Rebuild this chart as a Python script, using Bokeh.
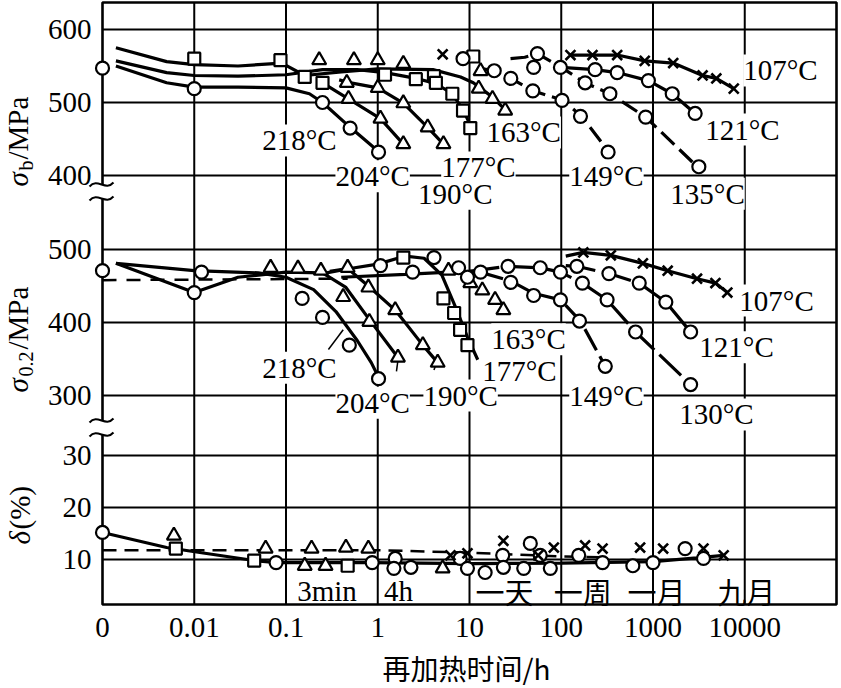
import numpy as np
from bokeh.plotting import figure
from bokeh.models import Range1d, Label
from bokeh.core.properties import value
from bokeh.embed import file_html
from bokeh.resources import INLINE

# ---------------- data : time in hours (0.001 h is drawn at the "0" tick) ----------------
X_TICKS = [-3, -2, -1, 0, 1, 2, 3, 4]
X_TICK_LABELS = ["0", "0.01", "0.1", "1", "10", "100", "1000", "10000"]
SB_TICKS = [600, 500, 400]
S2_TICKS = [500, 400, 300]
D_TICKS = [30, 20, 10]

# sigma_b  (MPa)
sb_start_t = [0.001]; sb_start_v = [547]
sb163_line_t = [0.0014, 0.005, 0.01, 0.03, 0.09, 0.16, 0.4, 1.0, 4.0, 8.0, 11, 18, 24.5]
sb163_line_v = [575, 556, 552, 550, 554, 537, 542, 546, 545, 535, 527, 507, 490]
sb163_tri_t = [0.23, 0.55, 1.0, 1.9, 13.2, 12.6, 17.8, 24.5]
sb163_tri_v = [558, 558, 558, 553, 543, 519, 505, 489]
sb177_line_t = [0.0014, 0.005, 0.01, 0.03, 0.1, 0.25, 0.6, 1.2, 2.6, 4.3, 6.5, 8.5, 10.5]
sb177_line_v = [557, 541, 537, 536, 538, 545, 545, 541, 533, 526, 512, 490, 466]
sb177_sq_t = [0.01, 0.087, 0.16, 1.2, 2.6, 4.1, 4.3, 6.5, 8.5, 10.2, 11]
sb177_sq_v = [560, 558, 535, 538, 532, 536, 527, 512, 489, 465, 563]
sb218_line_t = [0.0014, 0.005, 0.01, 0.03, 0.1, 0.18, 0.25, 0.5, 1.02]
sb218_line_v = [550, 527, 521, 521, 520, 512, 500, 466, 433]
sb218_o_t = [0.01, 0.25, 0.5, 1.02]
sb218_o_v = [519, 500, 465, 432]
sb204_line_t = [0.25, 0.48, 1.07, 1.9]
sb204_line_v = [527, 505, 478, 443]
sb204_sq_t = [0.25]; sb204_sq_v = [527]
sb204_tri_t = [0.48, 1.07, 1.9]
sb204_tri_v = [505, 478, 443]
sb190_line_t = [0.38, 0.46, 1.0, 1.9, 3.5, 5.2]
sb190_line_v = [531, 528, 520, 499, 466, 443]
sb190_tri_t = [0.46, 1.0, 1.9, 3.5, 5.2]
sb190_tri_v = [527, 520, 499, 466, 443]
sb149_line_t = [14, 18.6, 28.2, 49, 105, 170, 331]
sb149_line_v = [546, 543.5, 533, 516, 503, 480, 432]
sb149_o_t = [8.5, 18.6, 28.2, 49, 50, 102, 162, 324]
sb149_o_v = [560, 543.5, 533, 516, 548, 503, 481, 432]
sb135_line_t = [28, 40, 55, 100, 182, 339, 832, 3160]
sb135_line_v = [560, 562, 567, 548, 527, 512, 480, 410]
sb135_o_t = [55, 98, 182, 339, 832, 3160]
sb135_o_v = [567, 548, 527, 512, 480, 412]
sb121_line_t = [100, 234, 407, 891, 1620, 2880]
sb121_line_v = [548, 545, 541, 530, 512, 485]
sb121_o_t = [234, 407, 891, 1620, 2880]
sb121_o_v = [545, 541, 530, 512, 485]
sb107_line_t = [126, 219, 407, 813, 1660, 3470, 4900, 7590]
sb107_line_v = [565, 565, 565, 557, 554, 537, 533, 519]
sb107_x_t = [5.1, 126, 219, 407, 813, 1660, 3470, 4900, 7590]
sb107_x_v = [566, 565, 565, 565, 557, 554, 537, 533, 519]

# sigma_0.2 (MPa)
s2_start_t = [0.001]; s2_start_v = [471]
s2_218_line_t = [0.0014, 0.01, 0.05, 0.1, 0.2, 0.35, 0.6, 0.85, 1.05]
s2_218_line_v = [481, 471, 468, 462, 445, 415, 375, 345, 322]
s2_218_o_t = [0.012, 0.15, 0.25, 0.49, 1.02]
s2_218_o_v = [469, 433, 407, 369, 323]
s2_204_line_t = [0.0014, 0.01, 0.03, 0.1, 0.25, 0.45, 0.8, 1.66]
s2_204_line_v = [481, 441, 462, 469, 468, 448, 405, 352]
s2_204_o_t = [0.01]; s2_204_o_v = [441]
s2_204_tri_t = [0.068, 0.135, 0.24, 0.42, 0.81, 1.66]
s2_204_tri_v = [475, 474, 471, 435, 401, 352]
s2_190_line_t = [0.3, 0.47, 0.79, 1.55, 3.1, 4.5]
s2_190_line_v = [470, 474, 450, 417, 369, 345]
s2_190_tri_t = [0.47, 0.79, 1.55, 3.1, 4.5]
s2_190_tri_v = [475, 448, 417, 369, 345]
s2_177_line_t = [0.25, 0.5, 1.0, 2.0, 3.2, 5.0, 7.1, 9.5, 12.3]
s2_177_line_v = [467, 474, 480, 491, 488, 465, 420, 380, 349]
s2_177_sq_t = [1.9, 5.2, 6.8, 7.9, 9.5]
s2_177_sq_v = [489, 433, 413, 390, 369]
s2_177_o_t = [1.07, 2.4, 4.1]
s2_177_o_v = [478, 469, 489]
s2_163_line_t = [0.4, 2.0, 6.0, 10, 14]
s2_163_line_v = [462, 466, 469, 470, 470]
s2_163_tri_t = [5.9, 10.2, 13.8, 19, 23.4]
s2_163_tri_v = [471, 454, 444, 431, 417]
s2_163_o_t = [7.6, 9.5, 13.2]
s2_163_o_v = [475, 462, 469]
s2_149_line_t = [13, 28, 50, 98, 162, 302]
s2_149_line_v = [469, 457, 440, 431, 402, 340]
s2_149_o_t = [28.2, 50, 98, 158, 302]
s2_149_o_v = [455, 437, 431, 402, 340]
s2_130_line_t = [10, 26.3, 59, 98, 170, 316, 646, 2570]
s2_130_line_v = [470, 477, 475, 469, 454, 431, 387, 315]
s2_130_o_t = [26.3, 59, 98, 170, 316, 646, 2570]
s2_130_o_v = [477, 475, 469, 454, 431, 387, 315]
s2_121_line_t = [112, 148, 331, 708, 1380, 2570]
s2_121_line_v = [478, 477, 467, 454, 428, 387]
s2_121_o_t = [148, 331, 708, 1380, 2570]
s2_121_o_v = [477, 467, 454, 428, 387]
s2_107_line_t = [112, 174, 347, 776, 1445, 3020, 4790, 6460]
s2_107_line_v = [491, 496, 492, 481, 471, 460, 454, 441]
s2_107_x_t = [174, 347, 776, 1445, 3020, 4790, 6460]
s2_107_x_v = [496, 492, 481, 471, 460, 454, 441]
s2_dash_t = [0.001, 0.47]
s2_dash_v = [458, 460]

# delta (%)
d_line_t = [0.001, 0.005, 0.012, 0.045, 0.08, 0.87, 10, 100, 1000, 3000, 5900]
d_line_v = [15.2, 12.3, 11.3, 9.8, 9.4, 9.4, 9.2, 9.3, 9.6, 10.3, 10.8]
d_dash_t = [0.001, 1.0, 10, 100, 300]
d_dash_v = [11.8, 11.8, 11.3, 10.6, 10.4]
d_o_t = [0.001, 0.078, 0.87, 1.55, 1.5, 2.3, 7.9, 9.5, 14.8, 23, 23.4, 39, 46, 59, 76, 155, 282, 603, 1000, 2240, 3550]
d_o_v = [15.2, 9.4, 9.4, 10.2, 8.3, 8.5, 10.2, 8.3, 7.5, 10.8, 8.5, 8.3, 13.1, 10.8, 8.3, 10.8, 9.4, 8.8, 9.4, 12.1, 10.2]
d_tri_t = [0.006, 0.06, 0.16, 0.19, 0.27, 0.45, 0.79, 5.1]
d_tri_v = [14.6, 12.1, 8.8, 12.1, 8.8, 12.3, 12.1, 8.3]
d_sq_t = [0.0063, 0.045, 0.47]
d_sq_v = [12.1, 9.8, 8.8]
d_x_t = [6.2, 9.5, 23.4, 56, 83, 182, 282, 724, 1290, 3550, 5890]
d_x_v = [10.8, 11.2, 13.6, 10.8, 12.3, 12.7, 12.1, 12.3, 12.1, 12.1, 10.8]

# curve labels: (text, hours, value)
sb_labels = [("218°C", 0.14, 448), ("204°C", 0.88, 399), ("177°C", 12.5, 411), ("190°C", 7.0, 375),
             ("163°C", 39, 459), ("149°C", 311, 400), ("135°C", 3930, 375), ("121°C", 9450, 463),
             ("107°C", 24500, 544)]
s2_labels = [("218°C", 0.14, 338), ("204°C", 0.88, 290), ("190°C", 8.0, 300), ("177°C", 35, 334),
             ("163°C", 44, 377), ("149°C", 311, 300), ("130°C", 4920, 274), ("121°C", 8130, 366),
             ("107°C", 22200, 430)]
d_labels = [("3min", 0.28, 4.0), ("4h", 1.68, 4.0), ("一天", 24, 4.0), ("一周", 171, 4.0),
            ("一月", 1090, 4.0), ("九月", 10400, 4.0)]
s2_leaders = [([0.29, 0.42], [363, 390]), ([1.6, 1.65], [333, 346]), ([4.1, 4.4], [335, 346])]

# ---------------- layout / style ----------------
SERIF = "Liberation Serif"
CJK = "Noto Sans CJK SC"
FS = "29px"
W, H = 841, 688
LEFT, RIGHT, TOP, BOTTOM = 102, 836, 2, 604      # frame of the chart, in screen pixels
X0, X1 = -3, 5                                   # log10(hours) at the frame edges
PANEL = {"sb": (500, 102, 0.73), "s2": (500, 249, 0.73), "d": (10, 559, 5.2)}


def xpos(t):
    return np.log10(np.asarray(t, dtype=float))


def ypos(panel, v):
    ref_v, ref_px, k = PANEL[panel]
    return -(ref_px - (np.asarray(v, dtype=float) - ref_v) * k)


def sx(px):
    return X0 + (px - LEFT) * (X1 - X0) / (RIGHT - LEFT)


def sy(py):
    return -py


p = figure(width=W, height=H, x_range=Range1d(sx(0), sx(W)), y_range=Range1d(-H, 0),
           output_backend="svg", toolbar_location=None,
           min_border_left=0, min_border_right=0, min_border_top=0, min_border_bottom=0)
p.axis.visible = False
p.grid.visible = False
p.outline_line_color = None
p.background_fill_color = "white"
p.border_fill_color = "white"

# ---- grid, frame, tick labels ----
y_ticks, y_tick_text = [], []
for panel, ticks in (("sb", SB_TICKS), ("s2", S2_TICKS), ("d", D_TICKS)):
    for v in ticks:
        y_ticks.append(float(ypos(panel, v)))
        y_tick_text.append(str(v))

gx = X_TICKS[1:]
p.segment(x0=gx, y0=[-TOP] * len(gx), x1=gx, y1=[-BOTTOM] * len(gx), line_color="black", line_width=2)
p.segment(x0=[X0] * len(y_ticks), y0=y_ticks, x1=[X1] * len(y_ticks), y1=y_ticks,
          line_color="black", line_width=2)
p.quad(left=X0, right=X1, top=-TOP, bottom=-BOTTOM, fill_color=None, line_color="black", line_width=2.6)

p.text(x=X_TICKS, y=[sy(627)] * len(X_TICKS), text=X_TICK_LABELS, text_font=value(SERIF),
       text_font_size=FS, text_align="center", text_baseline="middle", text_color="black")
p.text(x=[sx(91)] * len(y_ticks), y=y_ticks, text=y_tick_text, text_font=value(SERIF),
       text_font_size=FS, text_align="right", text_baseline="middle", text_color="black")

# axis breaks on the left frame line
for yc in (191, 427):
    p.quad(left=sx(99), right=sx(105), top=sy(yc - 7), bottom=sy(yc + 7), fill_color="white", line_color=None)
    for dy in (-7, 7):
        y0 = sy(yc + dy)
        p.bezier(x0=sx(89), y0=y0 - 2, x1=sx(113), y1=y0 + 2, cx0=sx(97), cy0=y0 + 7,
                 cx1=sx(105), cy1=y0 - 7, line_color="black", line_width=2)


def curve(panel, t, v, dash="solid", width=3.2):
    p.line(xpos(t), ypos(panel, v), line_color="black", line_width=width, line_dash=dash)


def marks(panel, t, v, marker):
    size = {"circle": 13, "triangle": 14, "square": 12, "x": 14}[marker]
    lw = 2.6 if marker == "x" else 2.2
    p.scatter(xpos(t), ypos(panel, v), marker=marker, size=size, fill_color="white",
              line_color="black", line_width=lw)


# sigma_b
curve("sb", sb163_line_t, sb163_line_v)
curve("sb", sb177_line_t, sb177_line_v)
curve("sb", sb218_line_t, sb218_line_v)
curve("sb", sb204_line_t, sb204_line_v)
curve("sb", sb190_line_t, sb190_line_v)
curve("sb", sb149_line_t, sb149_line_v, dash="18 7")
curve("sb", sb135_line_t, sb135_line_v, dash="18 7")
curve("sb", sb121_line_t, sb121_line_v)
curve("sb", sb107_line_t, sb107_line_v)
marks("sb", sb_start_t, sb_start_v, "circle")
marks("sb", sb163_tri_t, sb163_tri_v, "triangle")
marks("sb", sb177_sq_t, sb177_sq_v, "square")
marks("sb", sb218_o_t, sb218_o_v, "circle")
marks("sb", sb204_sq_t, sb204_sq_v, "square")
marks("sb", sb204_tri_t, sb204_tri_v, "triangle")
marks("sb", sb190_tri_t, sb190_tri_v, "triangle")
marks("sb", sb149_o_t, sb149_o_v, "circle")
marks("sb", sb135_o_t, sb135_o_v, "circle")
marks("sb", sb121_o_t, sb121_o_v, "circle")
marks("sb", sb107_x_t, sb107_x_v, "x")

# sigma_0.2
curve("s2", s2_dash_t, s2_dash_v, dash="14 10", width=2.5)
curve("s2", s2_218_line_t, s2_218_line_v)
curve("s2", s2_204_line_t, s2_204_line_v)
curve("s2", s2_190_line_t, s2_190_line_v)
curve("s2", s2_177_line_t, s2_177_line_v)
curve("s2", s2_163_line_t, s2_163_line_v)
curve("s2", s2_149_line_t, s2_149_line_v, dash="24 7")
curve("s2", s2_130_line_t, s2_130_line_v, dash="30 7")
curve("s2", s2_121_line_t, s2_121_line_v, dash="30 7")
curve("s2", s2_107_line_t, s2_107_line_v)
for lt, lv in s2_leaders:
    curve("s2", lt, lv, width=1.5)
marks("s2", s2_start_t, s2_start_v, "circle")
marks("s2", s2_218_o_t, s2_218_o_v, "circle")
marks("s2", s2_204_o_t, s2_204_o_v, "circle")
marks("s2", s2_204_tri_t, s2_204_tri_v, "triangle")
marks("s2", s2_190_tri_t, s2_190_tri_v, "triangle")
marks("s2", s2_177_sq_t, s2_177_sq_v, "square")
marks("s2", s2_177_o_t, s2_177_o_v, "circle")
marks("s2", s2_163_tri_t, s2_163_tri_v, "triangle")
marks("s2", s2_163_o_t, s2_163_o_v, "circle")
marks("s2", s2_149_o_t, s2_149_o_v, "circle")
marks("s2", s2_130_o_t, s2_130_o_v, "circle")
marks("s2", s2_121_o_t, s2_121_o_v, "circle")
marks("s2", s2_107_x_t, s2_107_x_v, "x")

# delta
curve("d", d_dash_t, d_dash_v, dash="14 8", width=2.5)
curve("d", d_line_t, d_line_v)
marks("d", d_tri_t, d_tri_v, "triangle")
marks("d", d_sq_t, d_sq_v, "square")
marks("d", d_o_t, d_o_v, "circle")
marks("d", d_x_t, d_x_v, "x")


def label(x, y, text, font=SERIF, size=FS, bg=None, style="normal", **kw):
    p.add_layout(Label(x=float(x), y=float(y), text=text, text_font=font, text_font_size=size,
                       text_font_style=style, text_color="black", background_fill_color=bg, **kw))


for text, t, v in sb_labels:
    label(xpos(t), ypos("sb", v), text, bg="white", text_align="center", text_baseline="middle")
for text, t, v in s2_labels:
    label(xpos(t), ypos("s2", v), text, bg="white", text_align="center", text_baseline="middle")
for text, t, v in d_labels:
    f = CJK if any(ord(c) > 0x2E80 for c in text) else SERIF
    label(xpos(t), ypos("d", v), text, font=f, text_align="center", text_baseline="middle")

# axis titles (rotated, reading upwards)
rot = dict(angle=np.pi / 2, angle_units="rad", text_align="left", text_baseline="middle")
label(sx(17), sy(186), "σ", style="italic", **rot)
label(sx(25), sy(170), "b", size="20px", **rot)
label(sx(17), sy(159), "/MPa", **rot)
label(sx(17), sy(392), "σ", style="italic", **rot)
label(sx(25), sy(376), "0.2", size="20px", **rot)
label(sx(17), sy(349), "/MPa", **rot)
label(sx(19), sy(544), "δ", style="italic", **rot)
label(sx(19), sy(529), "(%)", **rot)

# x-axis title
label(sx(466), sy(667), "再加热时间/h", font=CJK, size="28px", text_align="center", text_baseline="middle")

open("out.html", "w").write(file_html(p, INLINE))
